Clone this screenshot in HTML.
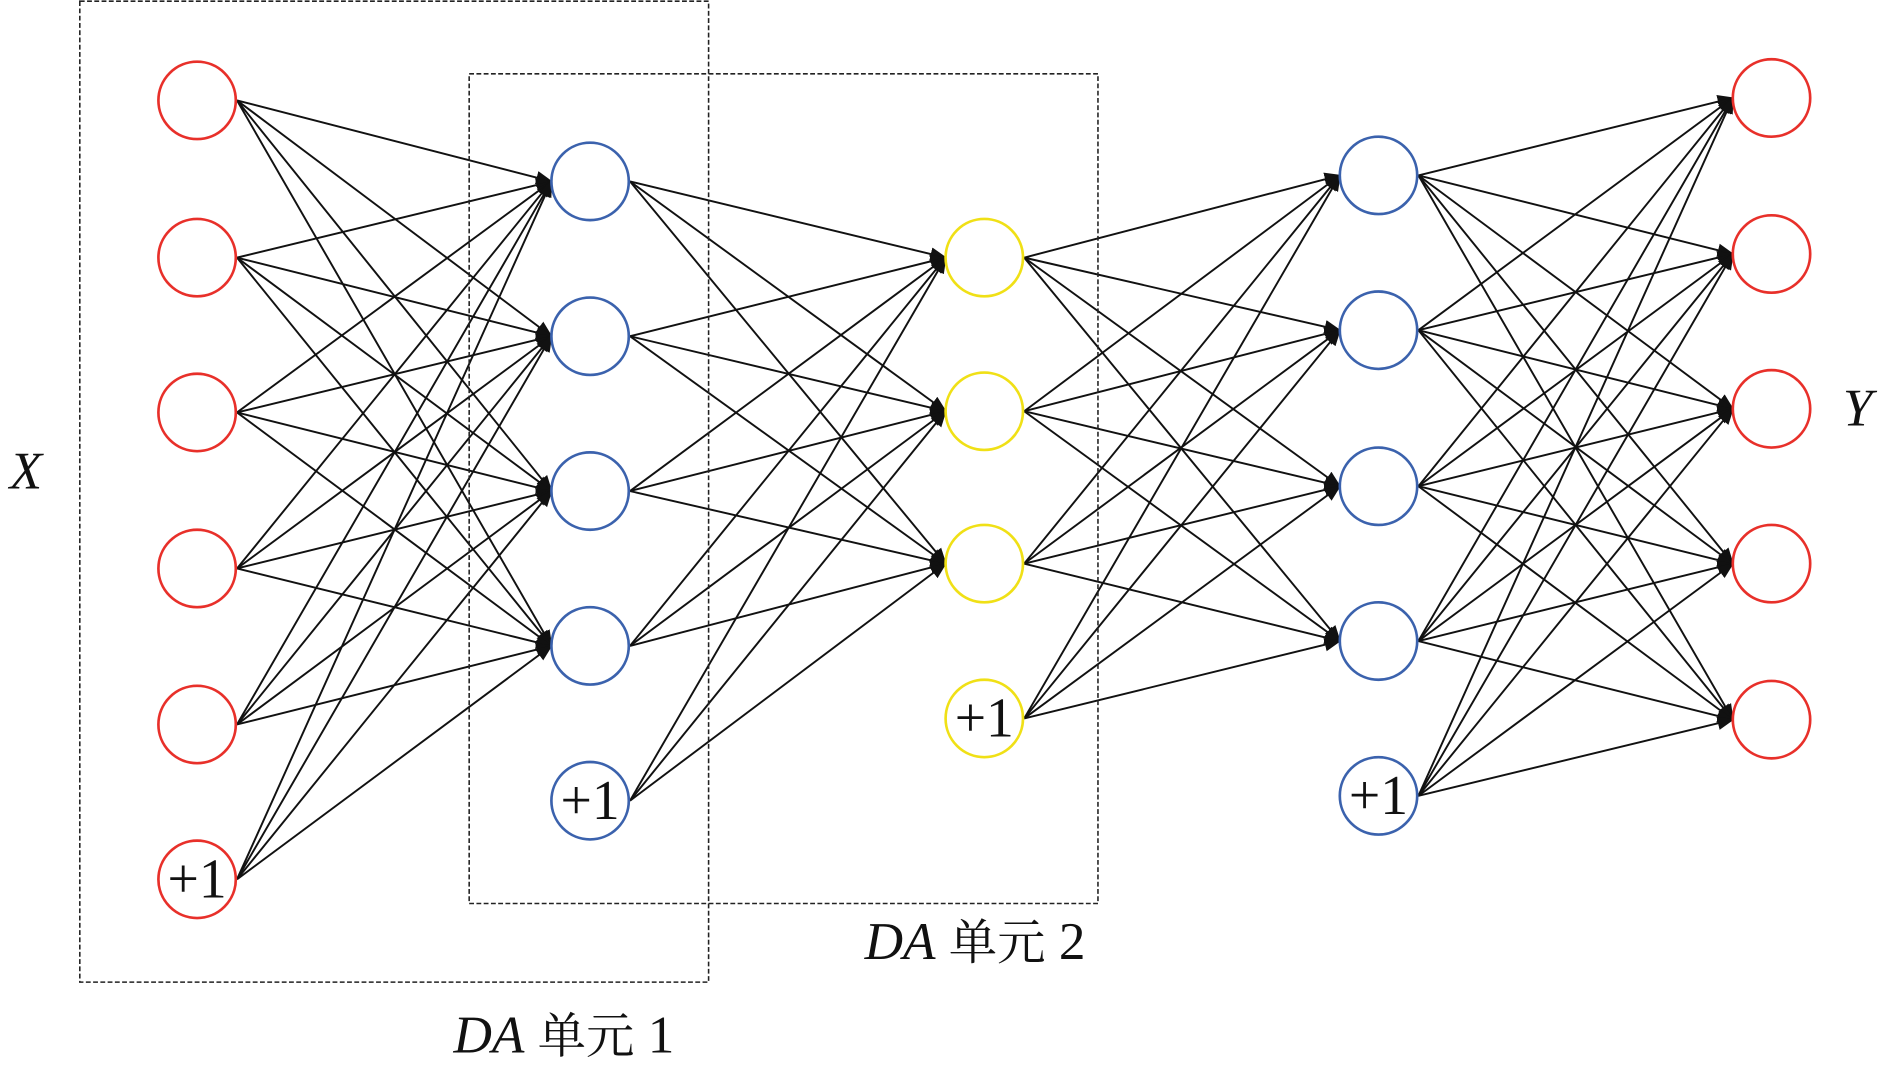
<!DOCTYPE html>
<html><head><meta charset="utf-8"><style>
html,body{margin:0;padding:0;background:#fff;}
svg{display:block;}
</style></head><body>
<svg width="1890" height="1068" viewBox="0 0 1563 883" preserveAspectRatio="none" xmlns="http://www.w3.org/2000/svg">
<defs><marker id="a" viewBox="0 0 10 10" refX="10" refY="5" markerWidth="5" markerHeight="5" orient="auto" markerUnits="userSpaceOnUse"><path d="M0,0L10,5L0,10z" fill="#111"/></marker>
<marker id="b" viewBox="0 0 10 10" refX="9" refY="5" markerWidth="14" markerHeight="14" orient="auto" markerUnits="userSpaceOnUse"><path d="M0,1L10,5L0,9z" fill="#111"/></marker></defs>
<g id="edges" stroke="#111" stroke-width="1.6" fill="none"></g>
<rect x="66" y="1" width="520" height="811" fill="none" stroke="#222" stroke-width="1.3" stroke-dasharray="4,2"/>
<rect x="388" y="61" width="520" height="686" fill="none" stroke="#222" stroke-width="1.3" stroke-dasharray="4,2"/>
<g id="nodes" fill="#fff" stroke-width="2.2"></g>
<g font-family="Liberation Serif, serif" font-size="44" fill="#111">
<text x="8" y="404" font-style="italic">X</text>
<text x="1524" y="352" font-style="italic">Y</text>
<text x="375" y="870"><tspan font-style="italic">DA</tspan> <tspan font-family="Noto Serif CJK SC, serif" font-size="40">单元</tspan> 1</text>
<text x="715" y="793"><tspan font-style="italic">DA</tspan> <tspan font-family="Noto Serif CJK SC, serif" font-size="40">单元</tspan> 2</text>
</g>
</svg>
<script>
var L=[{x:163,c:'#e8302a',y:[83,213,341,470,599,727]},
{x:488,c:'#3b62ad',y:[150,278,406,534,662]},
{x:814,c:'#f0e016',y:[213,340,466,594]},
{x:1140,c:'#3b62ad',y:[145,273,402,530,658]},
{x:1465,c:'#e8302a',y:[81,210,338,466,595]}];
var ns="http://www.w3.org/2000/svg",E=document.getElementById('edges'),N=document.getElementById('nodes');
for(var i=0;i<4;i++){var A=L[i],B=L[i+1],tn=(i==3)?B.y.length:B.y.length-1;
for(var s=0;s<A.y.length;s++)for(var t=0;t<tn;t++){var l=document.createElementNS(ns,'line');
l.setAttribute('x1',A.x+33);l.setAttribute('y1',A.y[s]);l.setAttribute('x2',B.x-32);l.setAttribute('y2',B.y[t]);l.setAttribute('marker-end','url(#b)');E.appendChild(l);}}
L.forEach(function(l,i){l.y.forEach(function(y,j){var c=document.createElementNS(ns,'circle');c.setAttribute('cx',l.x);c.setAttribute('cy',y);c.setAttribute('r',32);c.setAttribute('stroke',l.c);N.appendChild(c);
if(i<4&&j==l.y.length-1){var t=document.createElementNS(ns,'text');t.setAttribute('x',l.x);t.setAttribute('y',y+15);t.setAttribute('text-anchor','middle');t.setAttribute('font-family','Liberation Serif, serif');t.setAttribute('font-size','46');t.setAttribute('fill','#111');t.setAttribute('stroke','none');t.textContent='+1';N.appendChild(t);}});});
</script>
</body></html>
